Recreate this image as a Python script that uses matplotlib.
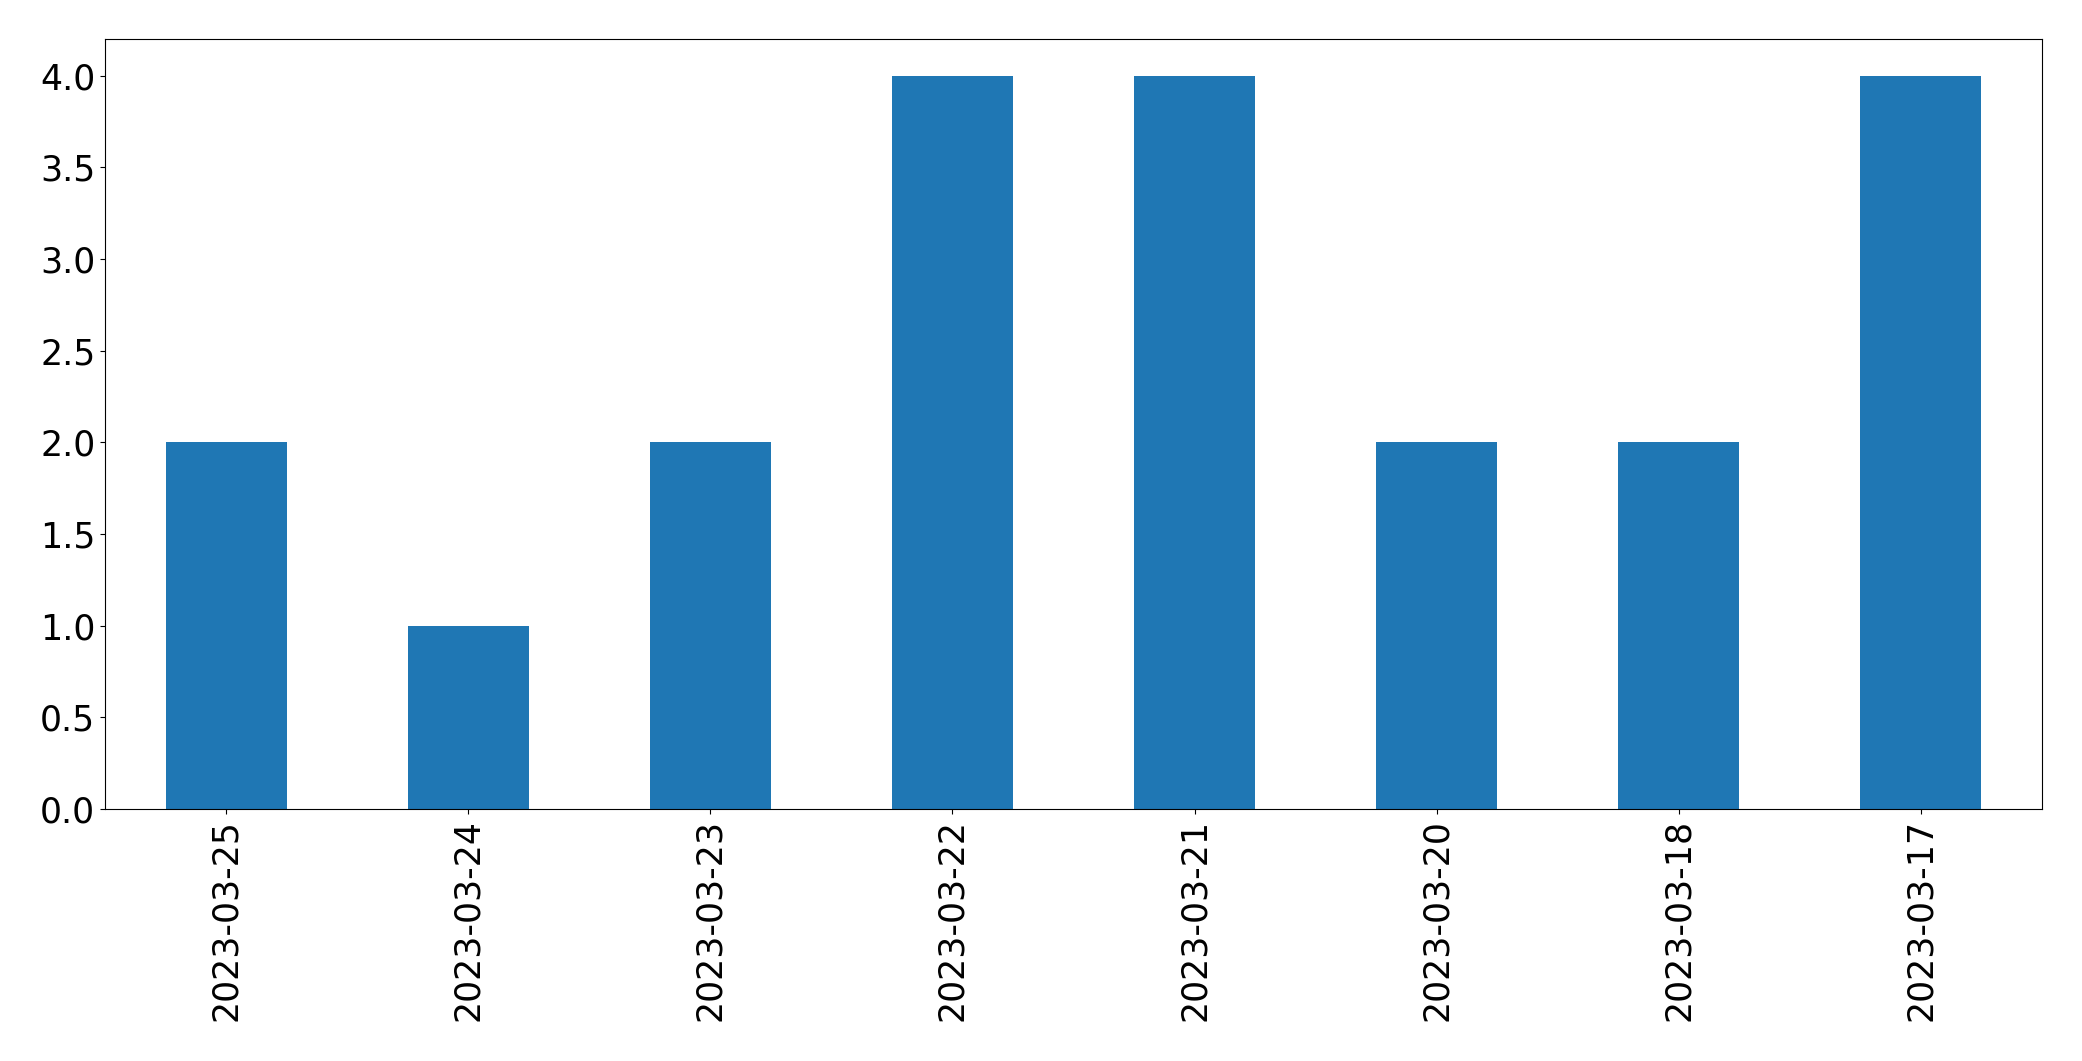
import matplotlib
matplotlib.use("Agg")
import matplotlib.pyplot as plt

dates = ["2023-03-25", "2023-03-24", "2023-03-23", "2023-03-22",
         "2023-03-21", "2023-03-20", "2023-03-18", "2023-03-17"]
counts = [2, 1, 2, 4, 4, 2, 2, 4]

fig = plt.figure(figsize=(20.82, 10.61), dpi=100)
ax = fig.add_axes([105/2082, 1-809/1061, (2042-105)/2082, (809-39)/1061])
x = list(range(len(dates)))
ax.bar(x, counts, width=0.5, color="#1f77b4")
ax.set_xticks(x)
ax.set_xticklabels(dates, rotation=90)
ax.set_xlim(-0.5, len(dates) - 0.5)
ax.set_ylim(0, 4.2)
ax.set_yticks([0, 0.5, 1, 1.5, 2, 2.5, 3, 3.5, 4])
ax.tick_params(labelsize=25)
fig.savefig("out.png", dpi=100)
